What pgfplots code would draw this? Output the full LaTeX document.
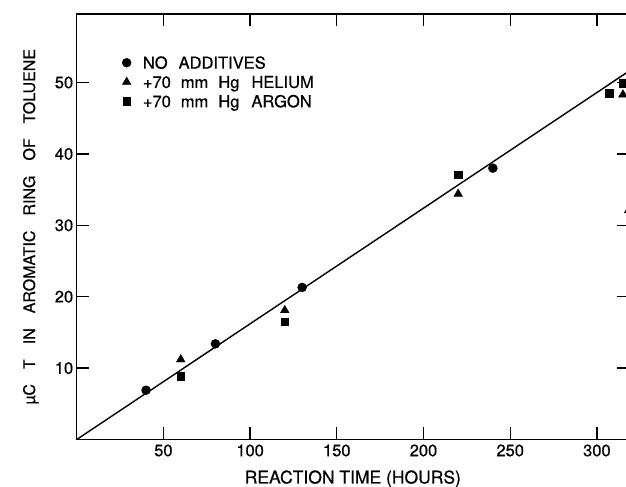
\documentclass[border=0pt]{standalone}
\usepackage{fontspec}
\setmainfont{TeX Gyre Heros}[FakeBold=0.6]
\usepackage{pgfplots}
\pgfplotsset{compat=1.18}
\begin{document}
\begin{tikzpicture}
\begin{axis}[
  at={(0,0)}, anchor=south west,
  x=1.734bp, y=7.14bp,
  xmin=0, xmax=318.5, ymin=0, ymax=59.6,
  axis line style={line width=1.4bp, black},
  every tick/.style={line width=1.3bp, black},
  major tick length=12bp,
  tick align=inside,
  xtick={50,100,...,300}, ytick={10,20,...,50},
  /pgf/number format/assume math mode=true,
  ticklabel style={font=\fontsize{16.5bp}{18bp}\selectfont},
  xticklabel style={yshift=-1.5bp},
  xlabel={REACTION TIME (HOURS)},
  xlabel style={at={(axis description cs:0.5,-0.1034)}, anchor=base, font=\fontsize{17.5bp}{20bp}\selectfont},
  ylabel={µC\hspace{15bp}T\hspace{15bp}IN\hspace{15bp}AROMATIC\hspace{15bp}RING\hspace{15bp}OF\hspace{15bp}TOLUENE},
  ylabel style={at={(axis description cs:-0.0755,0.5)}, anchor=base, font=\fontsize{16bp}{18bp}\selectfont},
  legend style={at={(axis description cs:0.082,0.8997)}, anchor=north west, draw=none, fill=none, inner sep=0pt,
    font=\fontsize{16.5bp}{18bp}\selectfont, row sep=7.5bp,
    nodes={inner sep=0pt, text height=11.8bp, text depth=0bp},
    /tikz/every odd column/.append style={column sep=11.7bp}},
  legend cell align=left,
  legend image code/.code={\draw[#1] plot coordinates {(0bp,0bp)};},
]
\addplot[black, line width=1.4bp, no marks, forget plot] coordinates {(0,0) (330,53.46)};
\addplot[only marks, mark=*, mark size=4.5bp, black] coordinates {
(40,6.9) (80,13.4) (130,21.3) (240,38.0)};
\addlegendentry{NO\hspace{11bp}ADDITIVES}
\addplot[only marks, mark=triangle*, mark size=5bp, black] coordinates {
(60,11.2) (120,18.1) (220,34.4) (315,48.3) (318.3,32.1)};
\addlegendentry{+70\hspace{10bp}mm\hspace{10bp}Hg\hspace{12bp}HELIUM}
\addplot[only marks, mark=square*, mark size=3.9bp, black] coordinates {
(60,8.9) (120,16.5) (220,37.1) (307,48.5) (315,49.9)};
\addlegendentry{+70\hspace{10bp}mm\hspace{10bp}Hg\hspace{12bp}ARGON}
\end{axis}
\pgfresetboundingbox
\useasboundingbox (-76.7bp,-47.5bp) rectangle (549.3bp,439.5bp);
\end{tikzpicture}
\end{document}
